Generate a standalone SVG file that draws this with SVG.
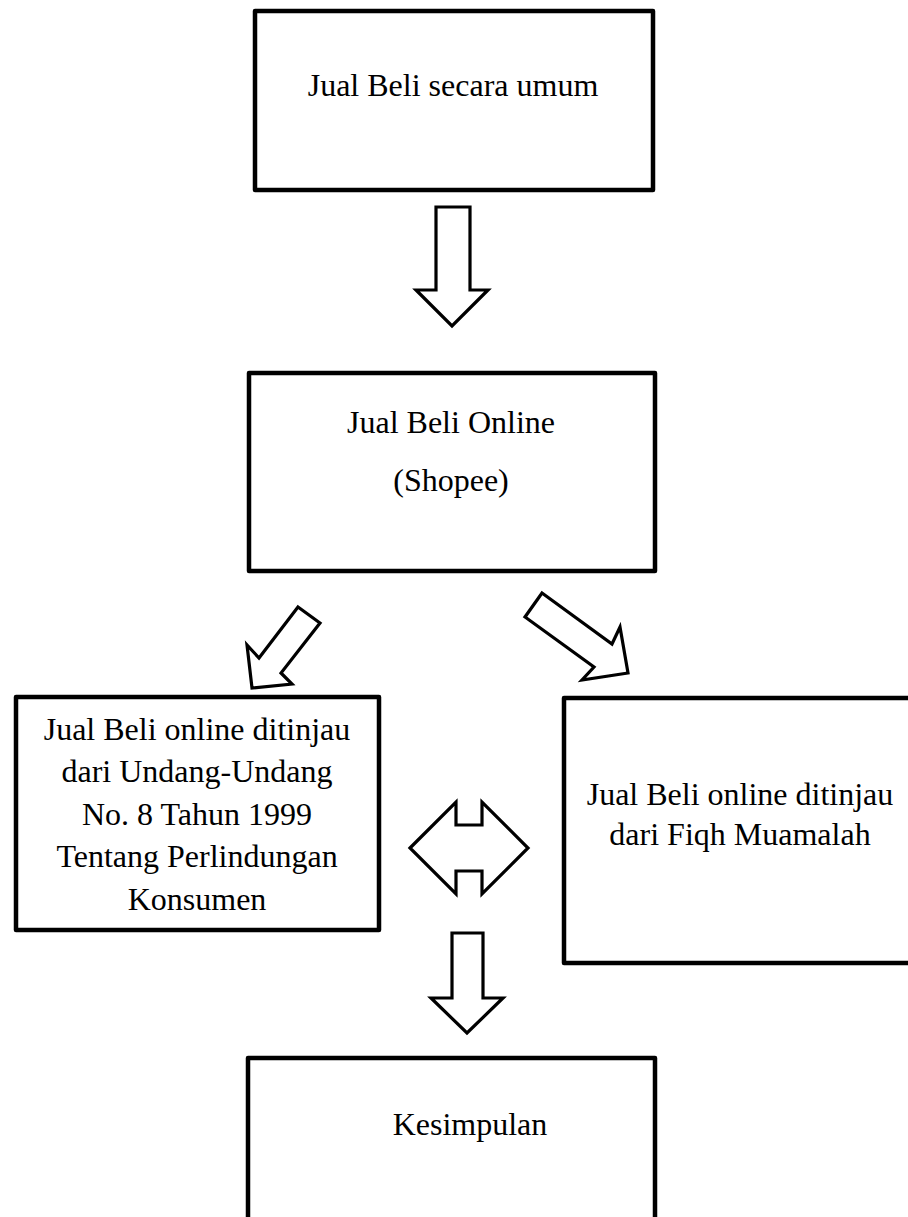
<svg xmlns="http://www.w3.org/2000/svg" width="908" height="1217" viewBox="0 0 908 1217">
<style>
.box{fill:#fff;stroke:#000;stroke-width:4.5;stroke-linejoin:round}
.arr{fill:#fff;stroke:#000;stroke-width:3.2;stroke-linejoin:miter}
text{font-family:"Liberation Serif","Times New Roman",serif;font-size:32px;fill:#000;text-anchor:middle}
</style>
<rect width="908" height="1217" fill="#fff"/>
<g id="connectors">
<polygon class="arr" points="436,207 470,207 470,290 488,290 452,326 416,290 436,290"/>
<polygon class="arr" points="298,607 320,623 281,673 292,684 252,688 247,645 259,658"/>
<polygon class="arr" points="542,593 612,644 620,627 628,673 582,680 594,667 525,617"/>
<polygon class="arr" points="410,848 456,802 456,825 482,825 482,802 528,848 482,894 482,871 456,871 456,894"/>
<polygon class="arr" points="452,933 483,933 483,998 503,998 467,1033 431,998 452,998"/>
</g>
<g id="node-umum">
<rect class="box" x="255" y="11" width="398" height="179"/>
<text x="453" y="96">Jual Beli secara umum</text>
</g>
<g id="node-online">
<rect class="box" x="249" y="373" width="406" height="198"/>
<text x="451" y="433">Jual Beli Online</text>
<text x="451" y="491">(Shopee)</text>
</g>
<g id="node-uu">
<rect class="box" x="16" y="697" width="363" height="233"/>
<text x="197" y="740">Jual Beli online ditinjau</text>
<text x="197" y="782">dari Undang-Undang</text>
<text x="197" y="825">No. 8 Tahun 1999</text>
<text x="197" y="867">Tentang Perlindungan</text>
<text x="197" y="910">Konsumen</text>
</g>
<g id="node-fiqh">
<rect class="box" x="564" y="698" width="360" height="265"/>
<text x="740" y="805">Jual Beli online ditinjau</text>
<text x="740" y="845">dari Fiqh Muamalah</text>
</g>
<g id="node-kesimpulan">
<rect class="box" x="248" y="1058" width="407" height="180"/>
<text x="470" y="1135">Kesimpulan</text>
</g>
</svg>
